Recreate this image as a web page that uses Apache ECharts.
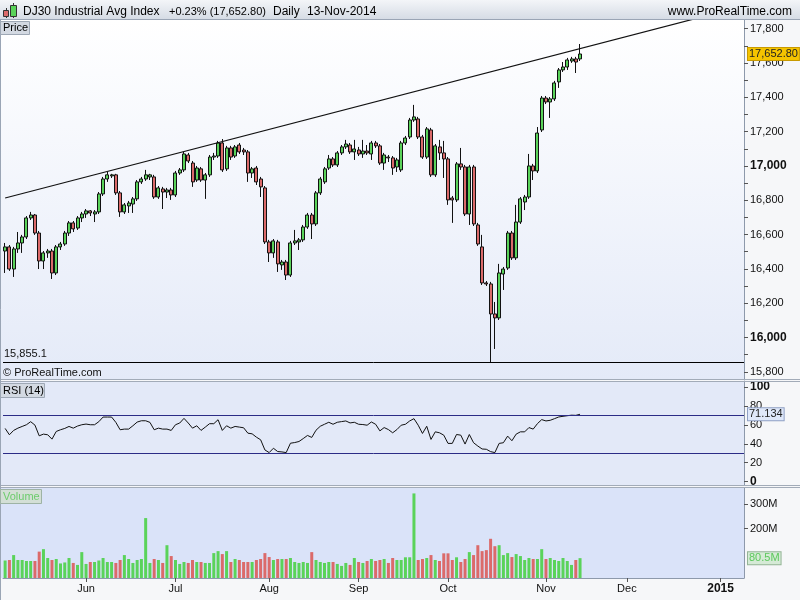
<!DOCTYPE html>
<html><head><meta charset="utf-8">
<script src="https://cdn.jsdelivr.net/npm/echarts@6/dist/echarts.min.js"></script>
<style>html,body{margin:0;padding:0;background:#f6f7f9}#c{width:800px;height:600px}</style>
</head><body><div id="c"></div>
<script>
// ---------- categories ----------
const firstDay = [2014, 4, 5];           // 5 May 2014 (UTC, month 0-based)
const categoryCount = 174;               // trading days shown on the axis (to 9 Jan 2015)
const holidays = ['2014-05-26','2014-07-04','2014-09-01','2014-11-27','2014-12-25','2015-01-01'];
const monthNames = ['Jan','Feb','Mar','Apr','May','Jun','Jul','Aug','Sep','Oct','Nov','Dec'];

// ---------- price data (DJ30 daily) ----------
const opens = [16504,16528,16399,16516,16551,16586,16697,16714,16609,16446,
 16493,16504,16376,16528,16545,16609,16668,16638,16697,16720,
 16738,16720,16732,16837,16924,16942,16948,16843,16732,16767,
 16778,16808,16907,16924,16936,16936,16819,16866,16848,16860,
 16831,16959,16977,17064,17017,16918,16983,16918,16948,17052,
 17058,17134,16983,17105,17058,17122,17093,17082,16959,16988,
 16924,16872,16557,16493,16557,16423,16440,16364,16551,16557,
 16569,16644,16714,16662,16843,16907,16988,17041,17006,17076,
 17111,17122,17082,17093,17070,17087,17070,17134,17117,17017,
 17052,17047,16994,16977,17134,17169,17268,17274,17169,17052,
 17210,16948,17111,17076,17041,16813,16802,17012,16994,16720,
 16994,16656,16528,16318,16312,16137,16114,16370,16405,16609,
 16464,16673,16790,16819,17000,16971,17210,17396,17373,17391,
 17490,17560,17577,17612,17624,17624];
const closes = [16528,16399,16516,16551,16586,16697,16714,16609,16446,16493,
 16504,16376,16528,16545,16609,16668,16633,16697,16720,16738,
 16726,16732,16837,16924,16948,16948,16843,16732,16773,16784,
 16808,16907,16924,16948,16948,16819,16872,16848,16860,16831,
 16959,16977,17070,17029,16907,16988,16918,16948,17052,17058,
 17134,16977,17105,17052,17111,17082,17082,16959,16983,16907,
 16878,16557,16493,16563,16429,16440,16364,16551,16563,16569,
 16644,16714,16662,16843,16924,16983,17041,17006,17076,17111,
 17128,17082,17099,17070,17087,17076,17134,17117,17017,17064,
 17047,16988,17035,17134,17163,17268,17286,17169,17052,17216,
 16948,17117,17076,17041,16802,16802,17012,16994,16720,16994,
 16662,16545,16318,16312,16137,16114,16376,16399,16609,16464,
 16673,16808,16819,17000,16971,17192,17396,17373,17391,17484,
 17560,17577,17618,17624,17606,17652.8];
const lows = [16376,16388,16353,16493,16493,16574,16685,16598,16399,16399,
 16464,16341,16364,16510,16534,16592,16615,16627,16673,16697,
 16708,16673,16720,16825,16907,16930,16831,16703,16720,16726,
 16726,16796,16895,16913,16918,16808,16808,16749,16813,16802,
 16819,16948,16965,17017,16878,16907,16907,16808,16936,17035,
 17047,16965,16971,17035,17047,17070,17064,16907,16930,16889,
 16819,16545,16440,16464,16382,16394,16335,16353,16539,16510,
 16557,16633,16574,16650,16831,16895,16977,16994,16994,17064,
 17099,17070,17035,17058,17047,17064,17035,17105,17006,16977,
 17023,16948,16965,16965,17122,17157,17257,17157,17041,17041,
 16936,16936,17035,16930,16773,16668,16790,16977,16708,16656,
 16650,16534,16306,16300,15855.1,15933,16102,16277,16394,16452,
 16452,16662,16743,16808,16918,16959,17198,17361,17280,17379,
 17455,17548,17560,17601,17542,17612];
const highs = [16551,16539,16528,16615,16598,16708,16732,16720,16621,16504,
 16516,16516,16539,16557,16621,16679,16679,16708,16732,16749,
 16743,16743,16848,16936,16965,16954,16954,16854,16784,16796,
 16819,16918,16936,16977,16954,16948,16883,16878,16872,16872,
 16971,16988,17082,17076,17029,17000,16994,16959,17064,17076,
 17146,17157,17117,17117,17122,17134,17105,17093,16994,17000,
 16936,16883,16569,16574,16569,16452,16452,16563,16627,16580,
 16656,16726,16726,16854,16936,16994,17064,17052,17087,17122,
 17152,17134,17152,17111,17152,17122,17146,17146,17128,17076,
 17064,17058,17047,17146,17175,17280,17356,17286,17181,17227,
 17222,17128,17152,17146,17052,16825,17023,17105,17006,17006,
 17006,16668,16598,16329,16324,16207,16429,16411,16621,16621,
 16773,16819,16831,17070,17012,17227,17408,17408,17402,17496,
 17571,17606,17630,17636,17636,17711];
// volume in millions
const volumes = [71,73,93,73,73,69,69,69,107,117,
 81,73,77,59,63,81,61,53,105,57,
 65,65,71,81,65,65,61,73,93,77,
 61,73,77,243,61,77,73,61,133,89,
 73,57,65,61,73,65,65,61,61,101,
 109,97,109,65,77,73,65,65,65,73,
 77,101,85,73,77,77,77,81,65,61,
 65,61,105,73,65,61,65,65,57,49,
 61,53,81,65,61,69,77,69,73,77,
 61,81,73,73,84,84,343,73,77,81,
 93,73,69,100,100,73,84,65,77,105,
 93,133,109,113,159,129,133,93,101,85,
 97,89,73,81,77,77,117,77,81,73,
 69,81,69,53,73,80.5];
const rsiValues = [56.2,49.5,54.1,56.5,58.3,60.1,63.3,59.7,48.4,50.2,
 49.5,44.9,53,54.8,56.2,58.3,56.5,58.7,60.1,60.8,
 60.1,60.1,63.3,68.2,68.2,68.2,62.6,54.8,55.5,55.5,
 59,62.9,64.3,64.3,62.6,54.8,56.5,55.5,55.5,54.1,
 60.1,61.9,66.8,61.9,56.5,59,54.1,57.6,61.2,61.2,
 65.4,54.1,59,56.5,58.3,57.6,56.9,51.2,50.5,47,
 44.2,33.5,30.7,35.3,31.8,31.4,30.7,40.6,41.3,42.4,
 45.5,48.8,46.7,54.3,58.5,60.6,62.7,60.6,62.7,63.4,
 64.1,62,62.7,60.6,60.3,59.6,63,60.6,53.6,57.1,
 55,51.6,55,59.6,60.6,64.1,66.5,59.6,50.9,58.5,
 44.6,52.6,51.6,49.1,40.4,40.4,49.8,49.1,39.7,49.8,
 41.1,37.6,34.5,34.2,31.7,30.7,40.4,41.1,48.1,43.2,
 50.2,52.6,52.6,57.1,55.5,61.3,65.5,64.1,64.8,66.5,
 68.3,69,69.6,70.2,70,71.134];

// trend line anchors (category index, price)
const trendX = [0, 170];
const trendY = [16813, 17910];
const yearLow = 15855.1;
const lastPrice = 17652.8;
const lastRsi = 71.134;
const lastVolume = 80.5;
const rsiLevels = [70, 30];

// axis ticks / labels
const priceLabels = [15800,16000,16200,16400,16600,16800,17000,17200,17400,17600,17800];
const priceTicks = [15800,15900,16000,16100,16200,16300,16400,16500,16600,16700,16800,16900,17000,17100,17200,17300,17400,17500,17600,17700,17800];
const rsiLabels = [0,20,40,60,80,100];
const volumeLabels = [200,300];

// ---------- build ----------
function buildDates(){
  const out=[]; const d=new Date(Date.UTC(firstDay[0],firstDay[1],firstDay[2]));
  while(out.length<categoryCount){
    const wd=d.getUTCDay(); const s=d.toISOString().slice(0,10);
    if(wd!==0&&wd!==6&&holidays.indexOf(s)<0) out.push(s);
    d.setUTCDate(d.getUTCDate()+1);
  }
  return out;
}
const dates = buildDates();
const candleData = opens.map((o,i)=>[o, closes[i], lows[i], highs[i]]);
const GREEN='#5ad35a', RED='#db6a6a';
const volumeData = volumes.map((v,i)=>({value:v,itemStyle:{color: closes[i]>=opens[i]?GREEN:RED}}));
function sep(n){ const s=String(Math.round(n)); return s.replace(/\B(?=(\d{3})+(?!\d))/g, ','); }
const isMonthStart = (idx)=> idx>0 && dates[idx].slice(5,7)!==dates[idx-1].slice(5,7);

const FONT='"Liberation Sans", Arial, sans-serif';
const chart = echarts.init(document.getElementById('c'), null, {renderer:'canvas'});
const LG = echarts.graphic.LinearGradient;
const axisGrey = '#8d99ab';
const CLEAR = 'rgba(0,0,0,0)';

function txt(text,x,y,opt){ return Object.assign({type:'text', x:x, y:y, z:200, silent:true,
  style:Object.assign({text:text, font:'12px '+FONT, fill:'#000', textVerticalAlign:'middle', verticalAlign:'middle'}, opt||{})}); }
function box(x,y,w,h,fill,stroke){ return {type:'rect', z:150, silent:true, shape:{x:x+0.5,y:y+0.5,width:w,height:h}, style:{fill:fill, stroke:stroke, lineWidth:1}}; }
function hline(y,x1,x2,color){ return {type:'line', z:150, silent:true, shape:{x1:x1,y1:y+0.5,x2:x2,y2:y+0.5}, style:{stroke:color,lineWidth:1}}; }

const graphics = [
  {type:'rect', z:-100, silent:true, shape:{x:0,y:0,width:800,height:600}, style:{fill:'#f6f7f9'}},
  {type:'rect', z:-90, silent:true, shape:{x:0,y:0,width:800,height:19}, style:{fill:new LG(0,0,0,1,[{offset:0,color:'#f3f5f8'},{offset:1,color:'#d6dce5'}])}},
  {type:'rect', z:-90, silent:true, shape:{x:0,y:20,width:744,height:360}, style:{fill:new LG(0,0,0,1,[{offset:0,color:'#ffffff'},{offset:1,color:'#e4eaf8'}])}},
  {type:'rect', z:-90, silent:true, shape:{x:0,y:382,width:744,height:103}, style:{fill:'#e3e9f8'}},
  {type:'rect', z:-90, silent:true, shape:{x:0,y:488,width:744,height:90}, style:{fill:'#dae3f9'}},
  hline(19,0,800,'#9aa5b5'),
  hline(379,0,800,'#a2abb8'), hline(381,0,800,'#a2abb8'),
  hline(485,0,800,'#a2abb8'), hline(487,0,800,'#a2abb8'),
  {type:'line', z:150, silent:true, shape:{x1:0.5,y1:19,x2:0.5,y2:600}, style:{stroke:'#9aa5b5',lineWidth:1}},
  // header icon
  {type:'line', z:160, silent:true, shape:{x1:6.5,y1:8,x2:6.5,y2:18}, style:{stroke:'#333',lineWidth:1}},
  {type:'rect', z:161, silent:true, shape:{x:3.5,y:10.5,width:5,height:6}, style:{fill:RED,stroke:'#333',lineWidth:1}},
  {type:'line', z:160, silent:true, shape:{x1:13.5,y1:3,x2:13.5,y2:18}, style:{stroke:'#333',lineWidth:1}},
  {type:'rect', z:161, silent:true, shape:{x:10.5,y:5.5,width:6,height:11}, style:{fill:GREEN,stroke:'#333',lineWidth:1}},
  txt('DJ30 Industrial Avg Index', 23, 11.5),
  txt('+0.23% (17,652.80)', 169, 11.5, {font:'11px '+FONT}),
  txt('Daily', 273, 11.5),
  txt('13-Nov-2014', 307, 11.5),
  txt('www.ProRealTime.com', 792, 11.5, {textAlign:'right', align:'right'}),
  box(0,21,29,13,'#d3d9e2','#9ea8b5'), txt('Price', 3, 28, {font:'11px '+FONT}),
  txt('\u00a9 ProRealTime.com', 3, 373, {font:'11px '+FONT, fill:'#111'}),
  box(0,383,44,14,'#d3d9e2','#9ea8b5'), txt('RSI (14)', 3, 390.5, {font:'11px '+FONT}),
  box(0,489,41,14,'#d3dfd6','#9eb3a5'), txt('Volume', 3, 496.5, {font:'11px '+FONT, fill:'#6ccc6c'})
];

const labelRich = {b:{fontWeight:'bold', fontSize:12, color:'#111', fontFamily:FONT}};

chart.setOption({
  animation:false,
  backgroundColor:'transparent',
  textStyle:{fontFamily:FONT},
  graphic:{elements:graphics},
  grid:[
    {left:3, width:741, top:20, height:360},
    {left:3, width:741, top:382, height:103},
    {left:3, width:741, top:488, height:90}
  ],
  xAxis:[
    {type:'category', gridIndex:0, data:dates, boundaryGap:true, show:false},
    {type:'category', gridIndex:1, data:dates, boundaryGap:true, show:false},
    {type:'category', gridIndex:2, data:dates, boundaryGap:true,
      axisLine:{show:true, lineStyle:{color:axisGrey}},
      axisTick:{show:true, alignWithLabel:true, length:4, interval:(i)=>isMonthStart(i), lineStyle:{color:'#555'}},
      axisLabel:{interval:(i)=>isMonthStart(i), margin:5, fontSize:11, color:'#111', fontFamily:FONT,
        formatter:(v)=>{ const m=+v.slice(5,7); return m===1 ? '{b|'+v.slice(0,4)+'}' : monthNames[m-1]; }, rich:labelRich},
      splitLine:{show:false}}
  ],
  yAxis:[
    {type:'value', gridIndex:0, position:'right', min:15752, max:17851, scale:true,
      axisLine:{show:true, lineStyle:{color:axisGrey}},
      axisTick:{show:true, length:4, customValues:priceTicks, lineStyle:{color:'#555'}},
      axisLabel:{customValues:priceLabels, margin:6, fontSize:11, color:'#111', fontFamily:FONT,
        formatter:(v)=> v%1000===0 ? '{b|'+sep(v)+'}' : sep(v), rich:labelRich},
      splitLine:{show:false}},
    {type:'value', gridIndex:1, position:'right', min:-3.5, max:105.2,
      axisLine:{show:true, lineStyle:{color:axisGrey}},
      axisTick:{show:true, length:4, customValues:rsiLabels, lineStyle:{color:'#555'}},
      axisLabel:{customValues:rsiLabels, margin:6, fontSize:11, color:'#111', fontFamily:FONT,
        formatter:(v)=> (v===0||v===100) ? '{b|'+v+'}' : String(v), rich:labelRich},
      splitLine:{show:false}},
    {type:'value', gridIndex:2, position:'right', min:0, max:365,
      axisLine:{show:true, lineStyle:{color:axisGrey}},
      axisTick:{show:true, length:4, customValues:volumeLabels, lineStyle:{color:'#555'}},
      axisLabel:{customValues:volumeLabels, margin:6, fontSize:11, color:'#111', fontFamily:FONT,
        formatter:(v)=> v+'M'},
      splitLine:{show:false}}
  ],
  series:[
    {type:'candlestick', xAxisIndex:0, yAxisIndex:0, data:candleData, barWidth:3.5,
      itemStyle:{color:GREEN, color0:RED, borderColor:'#111', borderColor0:'#111', borderWidth:1},
      markLine:{symbol:'none', silent:true, animation:false, precision:2,
        data:[
          {yAxis:yearLow, lineStyle:{color:'#000', width:1, type:'solid'},
            label:{show:true, position:'insideStartTop', distance:[1,3], formatter:'15,855.1', color:'#111', fontSize:11, fontFamily:FONT}},
          {yAxis:lastPrice, lineStyle:{color:CLEAR, width:1},
            label:{show:true, position:'end', distance:4, formatter:'17,652.80', color:'#222', fontSize:11, fontFamily:FONT,
              backgroundColor:'#f5c400', borderColor:'#c89a00', borderWidth:1, padding:[1,1,0,1]}}
        ]}},
    {type:'line', xAxisIndex:0, yAxisIndex:0, data:[[trendX[0],trendY[0]],[trendX[1],trendY[1]]],
      symbol:'none', clip:true, lineStyle:{color:'#111', width:1.2}, silent:true},
    {type:'line', xAxisIndex:1, yAxisIndex:1, data:rsiValues, symbol:'none',
      lineStyle:{color:'#111', width:1}, silent:true,
      markLine:{symbol:'none', silent:true, animation:false,
        data:[
          {yAxis:rsiLevels[0], lineStyle:{color:'#2c2c86', width:1, type:'solid'}, label:{show:false}},
          {yAxis:rsiLevels[1], lineStyle:{color:'#2c2c86', width:1, type:'solid'}, label:{show:false}},
          {yAxis:lastRsi, lineStyle:{color:CLEAR, width:1},
            label:{show:true, position:'end', distance:4, formatter:'71.134', color:'#222', fontSize:11, fontFamily:FONT,
              backgroundColor:'#dfe8fa', borderColor:'#8fa0c4', borderWidth:1, padding:[1,1,0,1]}}
        ]}},
    {type:'bar', xAxisIndex:2, yAxisIndex:2, data:volumeData, barWidth:3, silent:true,
      markLine:{symbol:'none', silent:true, animation:false,
        data:[
          {yAxis:lastVolume, lineStyle:{color:CLEAR, width:1},
            label:{show:true, position:'end', distance:4, formatter:'80.5M', color:'#5cc85c', fontSize:11, fontFamily:FONT,
              backgroundColor:'#d5ead6', borderColor:'#94b596', borderWidth:1, padding:[1,1,0,1]}}
        ]}}
  ]
});
</script></body></html>
